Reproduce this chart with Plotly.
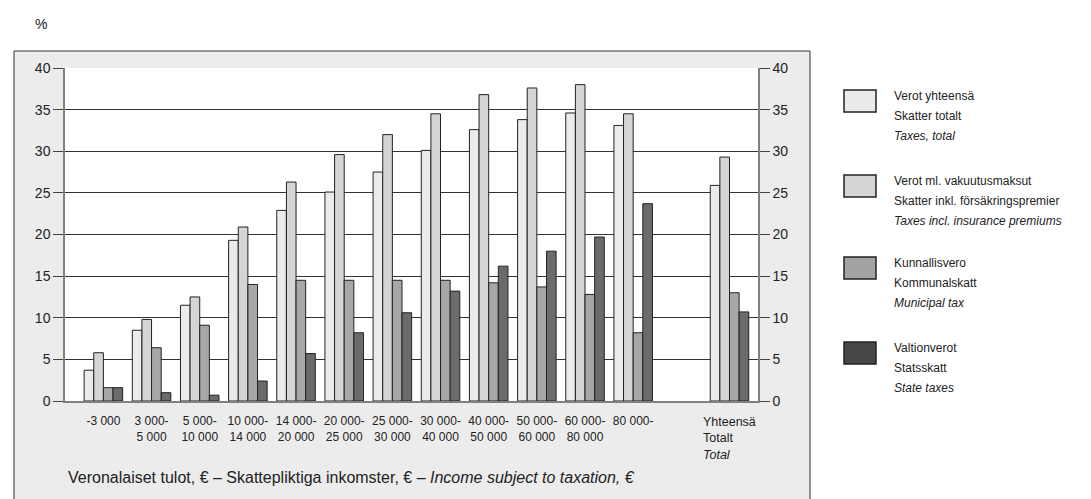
import plotly.graph_objects as go

# ---------------- data ----------------
categories = ["-3000", "3000-5000", "5000-10000", "10000-14000", "14000-20000",
              "20000-25000", "25000-30000", "30000-40000", "40000-50000",
              "50000-60000", "60000-80000", "80000-", "gap", "total"]
tick_labels = ["-3 000", "3 000-<br>5 000", "5 000-<br>10 000", "10 000-<br>14 000",
               "14 000-<br>20 000", "20 000-<br>25 000", "25 000-<br>30 000",
               "30 000-<br>40 000", "40 000-<br>50 000", "50 000-<br>60 000",
               "60 000-<br>80 000", "80 000-", "", ""]
total_label = "Yhteensä<br>Totalt<br><i>Total</i>"

taxes_total = [3.7, 8.5, 11.5, 19.3, 22.9, 25.1, 27.5, 30.1, 32.6, 33.8, 34.6, 33.1, None, 25.9]
taxes_incl = [5.8, 9.8, 12.5, 20.9, 26.3, 29.6, 32.0, 34.5, 36.8, 37.6, 38.0, 34.5, None, 29.3]
municipal = [1.6, 6.4, 9.1, 14.0, 14.5, 14.5, 14.5, 14.5, 14.2, 13.7, 12.8, 8.2, None, 13.0]
state = [1.6, 1.0, 0.7, 2.4, 5.7, 8.2, 10.6, 13.2, 16.2, 18.0, 19.7, 23.7, None, 10.7]

series_names = [
    ["Verot yhteensä", "Skatter totalt", "<i>Taxes, total</i>"],
    ["Verot ml. vakuutusmaksut", "Skatter inkl. försäkringspremier", "<i>Taxes incl. insurance premiums</i>"],
    ["Kunnallisvero", "Kommunalskatt", "<i>Municipal tax</i>"],
    ["Valtionverot", "Statsskatt", "<i>State taxes</i>"],
]
y_ticks = [0, 5, 10, 15, 20, 25, 30, 35, 40]

# ---------------- style ----------------
FONT = "Liberation Sans Narrow, Arial Narrow, Liberation Sans, sans-serif"
bar_colors = ["#ebebeb", "#d5d5d5", "#a7a7a7", "#6b6b6b"]
legend_colors = ["#ebebeb", "#d5d5d5", "#a3a3a3", "#474747"]
OUT = "#222222"

W, H = 1091, 499
L, R, T, B = 65, 758, 68, 401


def px_x(px):
    return (px - L) / (R - L)


def px_y(py):
    return (B - py) / (B - T)


fig = go.Figure()
for vals, col, nm in zip([taxes_total, taxes_incl, municipal, state], bar_colors, series_names):
    fig.add_trace(go.Bar(
        x=categories, y=vals, name=nm[0],
        marker=dict(color=col, line=dict(color=OUT, width=1)),
        showlegend=False,
    ))
# invisible trace on the right axis so it is drawn
fig.add_trace(go.Scatter(x=[categories[0]], y=[0], yaxis="y2", mode="markers",
                         marker=dict(opacity=0), showlegend=False, hoverinfo="skip"))

shapes = []
annotations = []

# grey panel behind the chart
shapes.append(dict(type="rect", xref="paper", yref="paper",
                   x0=px_x(14), x1=px_x(810), y0=px_y(520), y1=px_y(51),
                   fillcolor="#ececec", line=dict(color="#333333", width=1), layer="below"))
# white plotting area
shapes.append(dict(type="rect", xref="x domain", yref="y domain",
                   x0=0, x1=1, y0=0, y1=1, fillcolor="white",
                   line=dict(width=0), layer="below"))

# "%" label
annotations.append(dict(text="%", xref="paper", yref="paper", x=px_x(41), y=px_y(24),
                        showarrow=False, xanchor="center", yanchor="middle",
                        font=dict(size=14, color="#222", family=FONT)))

# total category label
annotations.append(dict(text=total_label, xref="x", yref="paper", x=categories[-1],
                        y=px_y(413), xanchor="center", yanchor="top", align="left",
                        showarrow=False, font=dict(size=12.5, color="#222", family=FONT)))

# x title
annotations.append(dict(text="Veronalaiset tulot, € – Skattepliktiga inkomster, € – <i>Income subject to taxation, €</i>",
                        xref="paper", yref="paper", x=px_x(66), y=px_y(477),
                        xanchor="left", yanchor="middle", showarrow=False,
                        font=dict(size=16, color="#222", family=FONT)))

# manual legend
sw_tops = [90, 175, 257, 342]
for i, (nm, col) in enumerate(zip(series_names, legend_colors)):
    top = sw_tops[i]
    shapes.append(dict(type="rect", xref="paper", yref="paper",
                       x0=px_x(844), x1=px_x(876), y0=px_y(top + 22), y1=px_y(top),
                       fillcolor=col, line=dict(color=OUT, width=1.5)))
    for j, line in enumerate(nm):
        annotations.append(dict(text=line, xref="paper", yref="paper",
                                x=px_x(892), y=px_y(top + 6 + j * 20),
                                xanchor="left", yanchor="middle", showarrow=False,
                                font=dict(size=12, color="#222", family=FONT)))

fig.update_layout(
    width=W, height=H,
    margin=dict(l=L, r=W - R, t=T, b=H - B, pad=0),
    paper_bgcolor="white", plot_bgcolor="white",
    barmode="group", bargap=0.2, bargroupgap=0,
    font=dict(family=FONT, color="#222"),
    shapes=shapes, annotations=annotations,
    xaxis=dict(type="category", categoryorder="array", categoryarray=categories,
               tickvals=categories, ticktext=tick_labels, ticks="", tickangle=0,
               ticklabelstandoff=8,
               tickfont=dict(size=12, family=FONT, color="#222"),
               showline=True, linecolor="#808080", linewidth=1.5,
               showgrid=False, zeroline=False, fixedrange=True),
    yaxis=dict(range=[0, 40], tickvals=y_ticks, ticks="outside", ticklen=10,
               tickcolor="#444", tickwidth=1,
               tickfont=dict(size=14, family=FONT, color="#222"),
               showline=True, linecolor="#808080", linewidth=1.5,
               showgrid=True, gridcolor="#333333", gridwidth=1, zeroline=False),
    yaxis2=dict(range=[0, 40], tickvals=y_ticks, ticks="outside", ticklen=10,
                tickcolor="#444", tickwidth=1, overlaying="y", side="right",
                tickfont=dict(size=14, family=FONT, color="#222"),
                showline=True, linecolor="#808080", linewidth=1.5,
                showgrid=False, zeroline=False),
)

fig.write_html("out.html", config={"displayModeBar": False},
               post_script="document.body.style.margin='0px';")
